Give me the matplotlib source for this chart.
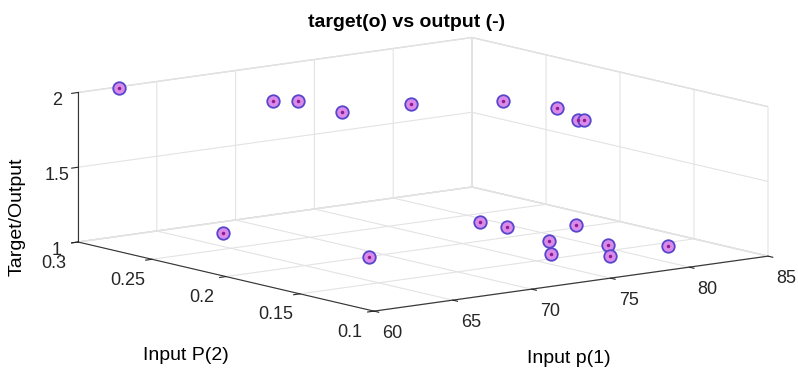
import matplotlib
matplotlib.use("Agg")
import matplotlib.pyplot as plt
import numpy as np
from mpl_toolkits.mplot3d import proj3d

plt.rcParams['font.family'] = ['Liberation Sans', 'DejaVu Sans']

# inputs and targets/outputs
p1 = [62.3, 66.3, 67.3, 67.2, 71.3, 75.4, 76.4, 75.2, 75.5,
      67.3, 69.1, 79.4, 79.5, 78.8, 76.7, 82.6, 80.5, 78.7, 82.7]
p2 = [0.297, 0.235, 0.229, 0.198, 0.195, 0.177, 0.151, 0.124, 0.123,
      0.280, 0.200, 0.235, 0.218, 0.182, 0.158, 0.204, 0.160, 0.140, 0.143]
target = [2, 2, 2, 2, 2, 2, 2, 2, 2,
          1, 1, 1, 1, 1, 1, 1, 1, 1, 1]
output = [2, 2, 2, 2, 2, 2, 2, 2, 2,
          1, 1, 1, 1, 1, 1, 1, 1, 1, 1]

x_ticks = [60, 65, 70, 75, 80, 85]
y_ticks = [0.1, 0.15, 0.2, 0.25, 0.3]
y_ticklabels = ['0.1', '0.15', '0.2', '0.25', '0.3']
z_ticks = [1, 1.5, 2]

fig = plt.figure(figsize=(7.98, 3.70), dpi=100)
ax = fig.add_axes([0, 0, 1, 1], projection='3d')
ax.set_proj_type('ortho')
ax.view_init(elev=10.4, azim=-127.7)
ax.set_box_aspect((498, 484, 152))

ax.plot(p1, p2, target, 'o', ms=9, mfc='#dc8aea', mec='#5546cc', mew=1.3, clip_on=False)
ax.plot(p1, p2, output, '.', ms=3, color='#8a1f8f', clip_on=False)

ax.set_xlim(60, 85)
ax.set_ylim(0.1, 0.3)
ax.set_zlim(1, 2)
ax.set_xticks(x_ticks)
ax.set_yticks(y_ticks)
ax.set_yticklabels(y_ticklabels)
ax.set_zticks(z_ticks)
ax.set_zticklabels(['1', '1.5', '2'])

for axis in (ax.xaxis, ax.yaxis, ax.zaxis):
    axis.set_pane_color((1, 1, 1, 1))
    axis.pane.set_edgecolor('#d9d9d9')
    axis.line.set_color('#333333')
    axis._axinfo['grid'].update(color='#e3e3e3', linewidth=0.8)
    axis._axinfo['tick'].update(inward_factor=0.2, outward_factor=0.0)
ax.tick_params(labelsize=13, colors='#262626')
ax.tick_params(axis='x', pad=8)
ax.tick_params(axis='y', pad=8)
ax.tick_params(axis='z', pad=0)

# fit the projected box into the figure like the original
fig.canvas.draw()
def to_px(x, y, z):
    xs, ys, _ = proj3d.proj_transform(x, y, z, ax.get_proj())
    return ax.transData.transform((xs, ys))

left = to_px(60, 0.3, 1)
right = to_px(85, 0.1, 1)
bb = ax.get_window_extent()
c = np.array([(bb.x0 + bb.x1) / 2, (bb.y0 + bb.y1) / 2])
s = 690 / (right[0] - left[0])
w = bb.width * s
c_new = np.array([78, 128]) - s * (left - c)
ax.set_position([(c_new[0] - w / 2) / 798, (c_new[1] - w / 2) / 370, w / 798, w / 370])

fig.text(0.51, 0.938, 'target(o) vs output (-)', ha='center', va='center',
         fontsize=14, fontweight='bold')
fig.text(0.713, 0.032, 'Input p(1)', ha='center', va='center', fontsize=14)
fig.text(0.233, 0.04, 'Input P(2)', ha='center', va='center', fontsize=14)
fig.text(0.022, 0.413, 'Target/Output', ha='center', va='center', fontsize=14, rotation=90)

fig.savefig('out.png', dpi=100)
